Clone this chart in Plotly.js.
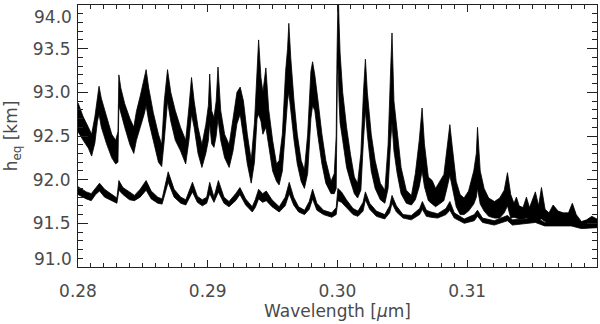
<!DOCTYPE html>
<html>
<head>
<meta charset="utf-8">
<script src="https://cdn.plot.ly/plotly-3.0.1.min.js"></script>
<style>
  html, body { margin: 0; padding: 0; background: #fff; }
  #chart { width: 600px; height: 324px; }
</style>
</head>
<body>
<div id="chart"></div>
<script>
// upper (noisy) curve: wavelength in um, upper and lower edge of the band in km
const upX = [0.28000,0.28040,0.28080,0.28105,0.28130,0.28150,0.28162,0.28180,0.28220,0.28260,
  0.28290,0.28308,0.28315,0.28330,0.28360,0.28400,0.28430,0.28450,0.28480,0.28510,
  0.28525,0.28545,0.28580,0.28620,0.28645,0.28665,0.28690,0.28715,0.28750,0.28790,
  0.28830,0.28855,0.28875,0.28895,0.28925,0.28955,0.28985,0.29005,0.29015,0.29030,
  0.29048,0.29065,0.29079,0.29100,0.29130,0.29165,0.29195,0.29225,0.29250,0.29275,
  0.29305,0.29335,0.29360,0.29380,0.29392,0.29410,0.29425,0.29448,0.29470,0.29500,
  0.29530,0.29550,0.29575,0.29600,0.29615,0.29625,0.29640,0.29665,0.29690,0.29720,
  0.29745,0.29770,0.29795,0.29808,0.29825,0.29850,0.29880,0.29910,0.29950,0.29975,
  0.29990,0.29996,0.29999,0.30005,0.30012,0.30020,0.30040,0.30070,0.30100,0.30130,0.30155,
  0.30180,0.30200,0.30215,0.30230,0.30260,0.30290,0.30330,0.30365,0.30390,0.30410,
  0.30420,0.30435,0.30460,0.30490,0.30530,0.30570,0.30600,0.30630,0.30652,0.30670,
  0.30700,0.30730,0.30756,0.30785,0.30820,0.30845,0.30866,0.30885,0.30915,0.30945,
  0.30975,0.31010,0.31050,0.31070,0.31079,0.31100,0.31130,0.31165,0.31210,0.31250,
  0.31285,0.31310,0.31335,0.31360,0.31379,0.31400,0.31430,0.31456,0.31480,0.31525,
  0.31550,0.31572,0.31600,0.31630,0.31662,0.31700,0.31740,0.31780,0.31810,0.31840,
  0.31880,0.31920,0.31960,0.32000];
const upHi = [92.88,92.72,92.60,92.52,92.72,92.98,93.07,92.93,92.71,92.52,
  92.45,92.55,93.20,93.05,92.87,92.70,92.60,92.78,92.96,93.15,
  93.26,93.05,92.77,92.52,92.40,92.90,93.26,93.00,92.79,92.60,
  92.45,92.83,93.17,92.90,92.60,92.40,92.63,92.85,93.21,92.79,
  92.71,92.90,93.29,92.79,92.52,92.40,92.71,93.00,93.06,92.90,
  92.52,92.22,92.65,93.20,93.60,93.17,93.00,93.28,92.80,92.45,
  92.18,92.22,92.52,93.24,93.50,93.79,93.39,92.90,92.52,92.22,
  92.11,92.52,93.24,93.35,93.20,92.90,92.52,92.22,91.98,92.07,
  92.50,93.40,94.20,94.20,93.80,93.45,93.00,92.60,92.29,92.03,91.96,
  92.30,93.00,93.38,93.00,92.52,92.22,91.96,91.88,92.40,93.28,
  93.68,92.90,92.52,92.14,91.88,91.82,92.07,92.45,92.82,92.41,
  92.03,91.99,91.90,91.98,92.06,92.37,92.63,92.37,91.98,91.83,
  91.79,91.87,92.10,92.30,92.60,92.10,91.90,91.79,91.75,91.79,
  91.88,92.08,91.83,91.73,91.80,91.70,91.68,91.80,91.68,91.86,
  91.70,91.91,91.66,91.62,91.71,91.64,91.62,91.62,91.73,91.60,
  91.52,91.54,91.58,91.55];
const upLo = [92.55,92.45,92.36,92.27,92.42,92.67,92.75,92.60,92.41,92.25,
  92.18,92.20,92.85,92.75,92.60,92.40,92.30,92.45,92.60,92.75,
  92.85,92.67,92.45,92.20,92.15,92.45,92.90,92.67,92.45,92.33,
  92.18,92.45,92.75,92.60,92.30,92.14,92.30,92.45,92.65,92.41,
  92.37,92.50,92.70,92.45,92.25,92.14,92.33,92.64,92.75,92.52,
  92.18,91.96,92.20,92.70,92.75,92.67,92.52,92.60,92.40,92.10,
  91.98,91.94,92.10,92.63,92.90,93.00,92.79,92.45,92.18,91.98,
  91.90,92.07,92.70,92.85,92.79,92.49,92.18,91.96,91.84,91.84,
  91.90,92.30,93.20,93.30,92.90,92.65,92.45,92.14,91.98,91.84,91.79,
  91.88,92.45,92.80,92.52,92.10,91.90,91.77,91.73,91.90,92.45,
  92.65,92.33,92.07,91.84,91.73,91.71,91.77,91.92,92.10,91.92,
  91.76,91.72,91.69,91.72,91.76,91.91,92.05,91.91,91.69,91.60,
  91.60,91.64,91.72,91.80,91.90,91.72,91.64,91.58,91.56,91.56,
  91.62,91.70,91.56,91.57,91.56,91.55,91.55,91.56,91.54,91.56,
  91.54,91.55,91.52,91.50,91.50,91.50,91.49,91.49,91.50,91.47,
  91.45,91.45,91.46,91.46];

// lower (smooth) curve
const lowX = [0.28000,0.28064,0.28102,0.28136,0.28166,0.28205,0.28256,0.28300,0.28315,0.28346,
  0.28397,0.28435,0.28479,0.28525,0.28564,0.28615,0.28648,0.28695,0.28741,0.28792,
  0.28831,0.28882,0.28920,0.28958,0.28992,0.29015,0.29048,0.29082,0.29125,0.29164,
  0.29215,0.29248,0.29292,0.29343,0.29366,0.29392,0.29423,0.29451,0.29495,0.29551,
  0.29597,0.29628,0.29662,0.29700,0.29746,0.29782,0.29808,0.29841,0.29892,0.29956,
  0.29990,0.30003,0.30031,0.30069,0.30120,0.30158,0.30197,0.30215,0.30248,0.30300,
  0.30364,0.30402,0.30420,0.30454,0.30505,0.30569,0.30633,0.30654,0.30685,0.30720,
  0.30772,0.30836,0.30866,0.30900,0.30977,0.31054,0.31079,0.31118,0.31208,0.31310,
  0.31348,0.31456,0.31525,0.31597,0.31700,0.31802,0.31879,0.32000];
const lowHi = [91.92,91.86,91.84,91.91,91.96,91.89,91.84,91.79,91.99,91.91,
  91.86,91.82,91.89,91.99,91.87,91.80,91.78,92.09,91.89,91.80,
  91.77,91.97,91.81,91.77,91.80,91.97,91.80,91.99,91.80,91.75,
  91.84,91.91,91.78,91.69,91.77,91.89,91.84,91.87,91.77,91.69,
  91.80,91.97,91.80,91.69,91.65,91.75,91.89,91.73,91.65,91.62,
  91.68,91.90,91.86,91.77,91.67,91.64,91.74,91.86,91.73,91.64,
  91.60,91.70,91.82,91.70,91.60,91.59,91.67,91.75,91.65,91.63,
  91.61,91.67,91.75,91.62,91.55,91.60,91.65,91.56,91.53,91.59,
  91.54,91.55,91.57,91.51,91.52,91.52,91.48,91.49];
const lowLo = [91.83,91.78,91.76,91.83,91.87,91.80,91.76,91.73,91.88,91.83,
  91.77,91.76,91.80,91.88,91.78,91.73,91.72,91.97,91.80,91.73,
  91.71,91.86,91.74,91.70,91.73,91.84,91.74,91.86,91.73,91.69,
  91.76,91.83,91.71,91.63,91.68,91.78,91.74,91.76,91.69,91.63,
  91.70,91.84,91.71,91.63,91.60,91.66,91.78,91.65,91.60,91.57,
  91.60,91.76,91.74,91.68,91.60,91.58,91.64,91.77,91.66,91.58,
  91.55,91.62,91.73,91.63,91.56,91.54,91.60,91.66,91.58,91.57,
  91.56,91.60,91.65,91.56,91.50,91.53,91.58,91.51,91.48,91.53,
  91.48,91.50,91.51,91.47,91.47,91.47,91.44,91.45];

const xTicks = [0.28, 0.29, 0.30, 0.31];
const xTickText = ['0.28', '0.29', '0.30', '0.31'];
const yTicks = [91.5, 92.0, 92.5, 93.0, 93.5];
const yTickText = ['91.5', '92.0', '92.5', '93.0', '93.5'];

const band = (xs, hi, lo) => ({
  x: xs.concat(xs.slice().reverse()),
  y: hi.concat(lo.slice().reverse()),
  type: 'scatter',
  mode: 'lines',
  fill: 'toself',
  fillcolor: '#000',
  line: { color: '#000', width: 0.8 },
  hoverinfo: 'skip'
});

const tickFont = { family: 'DejaVu Sans, sans-serif', size: 17, color: '#4a4a4a' };

const layout = {
  width: 600,
  height: 324,
  margin: { l: 78, r: 3, t: 5, b: 57 },
  paper_bgcolor: '#fff',
  plot_bgcolor: '#fff',
  showlegend: false,
  font: tickFont,
  xaxis: {
    range: [0.28, 0.32],
    tickmode: 'array',
    tickvals: xTicks,
    ticktext: xTickText,
    ticks: 'inside',
    ticklen: 7,
    tickcolor: '#222',
    showline: true,
    linecolor: '#222',
    linewidth: 1,
    mirror: 'allticks',
    showgrid: false,
    zeroline: false,
    tickfont: tickFont,
    ticklabelstandoff: 9,
    minor: { tickmode: 'linear', tick0: 0.28, dtick: 0.001, ticks: 'inside', ticklen: 4, tickcolor: '#222', showgrid: false },
    title: { text: 'Wavelength [<i>μ</i>m]', font: tickFont, standoff: 3 }
  },
  yaxis: {
    range: [91, 94],
    tickmode: 'array',
    tickvals: yTicks,
    ticktext: yTickText,
    ticks: 'inside',
    ticklen: 10,
    tickcolor: '#222',
    showline: true,
    linecolor: '#222',
    linewidth: 1,
    mirror: 'allticks',
    showgrid: false,
    zeroline: false,
    tickfont: tickFont,
    ticklabelstandoff: 3,
    minor: { tickmode: 'linear', tick0: 91, dtick: 0.1, ticks: 'inside', ticklen: 5, tickcolor: '#222', showgrid: false },
    title: { text: 'h<sub>eq</sub> [km]', font: tickFont, standoff: 10 }
  },
  annotations: [
    { xref: 'paper', yref: 'y', x: 0, y: 94, text: '94.0', showarrow: false,
      xanchor: 'right', yanchor: 'top', xshift: -4, yshift: 0, font: tickFont },
    { xref: 'paper', yref: 'y', x: 0, y: 91, text: '91.0', showarrow: false,
      xanchor: 'right', yanchor: 'bottom', xshift: -4, yshift: -4, font: tickFont }
  ]
};

Plotly.newPlot('chart', [band(upX, upHi, upLo), band(lowX, lowHi, lowLo)], layout, { staticPlot: true });
</script>
</body>
</html>
